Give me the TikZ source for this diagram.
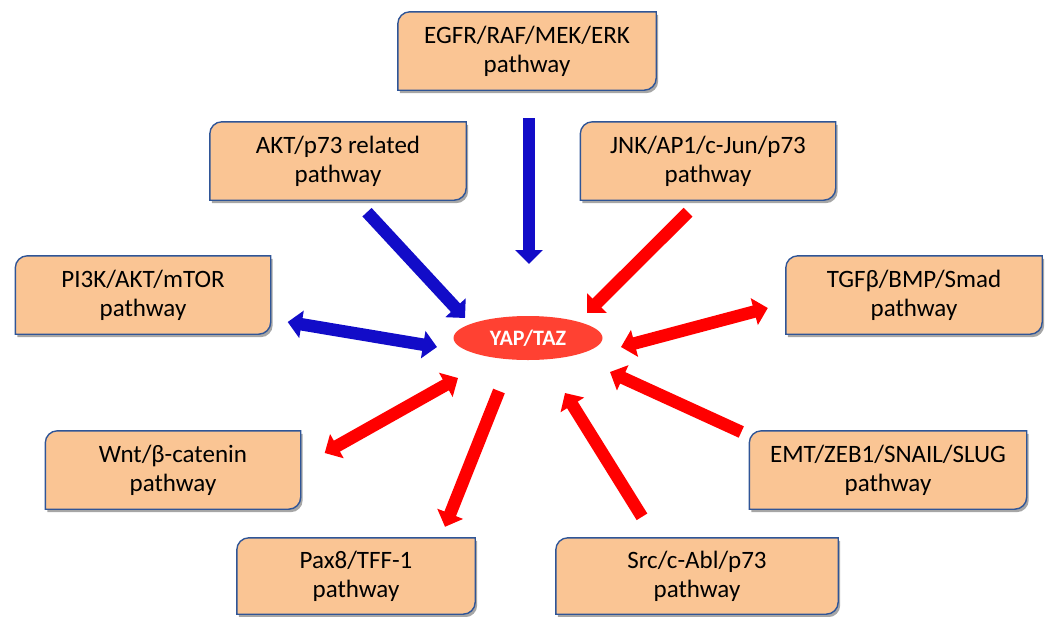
\documentclass[tikz,border=0pt]{standalone}
\usepackage{fontspec}
\setmainfont{Carlito}
\usetikzlibrary{arrows.meta,calc,shadows,shapes.geometric,backgrounds}

\definecolor{boxfill}{RGB}{250,197,148}
\definecolor{boxline}{RGB}{47,85,151}
\definecolor{arrblue}{RGB}{18,12,200}
\definecolor{arrred}{RGB}{255,0,0}
\definecolor{yapred}{RGB}{255,65,50}

\tikzset{
  pathbox/.style={align=center, inner sep=0pt, minimum height=78pt,
    font=\fontsize{25}{29}\selectfont},
  arr/.style={line width=12.5pt, arrows={-Triangle[width=27pt,length=14pt]}},
  dblarr/.style={line width=12.5pt,
    arrows={Triangle[width=27pt,length=14pt]-Triangle[width=27pt,length=14pt]}},
}

% box with two rounded corners (top left, bottom right)
\newcommand\boxoutline[1]{%
  \draw[boxline, line width=1.4pt, fill=boxfill,
    drop shadow={shadow xshift=2pt, shadow yshift=-3pt, opacity=0.35, fill=black}]
    ([yshift=-12pt]#1.north west) arc (180:90:12pt) -- (#1.north east)
    -- ([yshift=12pt]#1.south east) arc (0:-90:12pt) -- (#1.south west) -- cycle;}

\begin{document}
\begin{tikzpicture}[x=1pt,y=-1pt]
    \useasboundingbox (0,0) rectangle (1046,616);
    % pathways
    \node[pathbox, minimum width=258pt] (egfr) at (527,51) {EGFR/RAF/MEK/ERK\\pathway};
    \node[pathbox, minimum width=256pt] (akt) at (338,161) {AKT/p73 related\\pathway};
    \node[pathbox, minimum width=255pt] (jnk) at (708,161) {JNK/AP1/c-Jun/p73\\pathway};
    \node[pathbox, minimum width=255pt] (pik) at (143,295) {PI3K/AKT/mTOR\\pathway};
    \node[pathbox, minimum width=256pt] (tgf) at (914,295) {TGFβ/BMP/Smad\\pathway};
    \node[pathbox, minimum width=255pt] (wnt) at (173,470) {Wnt/β-catenin\\pathway};
    \node[pathbox, minimum width=277pt] (emt) at (888,470) {EMT/ZEB1/SNAIL/SLUG\\pathway};
    \node[pathbox, minimum width=238pt, minimum height=76pt] (pax) at (356,576) {Pax8/TFF-1\\pathway};
    \node[pathbox, minimum width=282pt, minimum height=76pt] (src) at (697,576) {Src/c-Abl/p73\\pathway};
    \begin{scope}[on background layer]
      \foreach \n in {egfr,akt,jnk,pik,tgf,wnt,emt,pax,src} {\boxoutline{\n}}
    \end{scope}
    % centre
    \node[ellipse, fill=yapred, minimum width=149pt, minimum height=44pt, inner sep=0pt,
      text=white, font=\bfseries\fontsize{22}{22}\selectfont] (yap) at (528,338) {YAP/TAZ};
    % blue arrows
    \draw[arr, arrblue] ($(egfr.south)+(2,28)$) -- ($(yap)+(1,-74)$);
    \draw[arr, arrblue] ($(akt.south)+(29,12)$) -- ($(yap)+(-63,-20)$);
    \draw[dblarr, arrblue] ($(pik.east)+(17,27)$) -- ($(yap)+(-91,9)$);
    % red arrows
    \draw[arr, arrred] ($(jnk.south)+(-20,12)$) -- ($(yap)+(59,-25)$);
    \draw[dblarr, arrred] ($(yap)+(93,9)$) -- ($(tgf.west)+(-18,13)$);
    \draw[arr, arrred] ($(emt.west)+(-8,-38)$) -- ($(yap)+(82,34)$);
    \draw[dblarr, arrred] ($(yap)+(-70,40)$) -- ($(wnt.east)+(24,-17)$);
    \draw[arr, arrred] ($(yap)+(-29,53)$) -- ($(pax.north)+(89,-11)$);
    \draw[arr, arrred] ($(src.north)+(-55,-21)$) -- ($(yap)+(37,55)$);
\end{tikzpicture}
\end{document}
